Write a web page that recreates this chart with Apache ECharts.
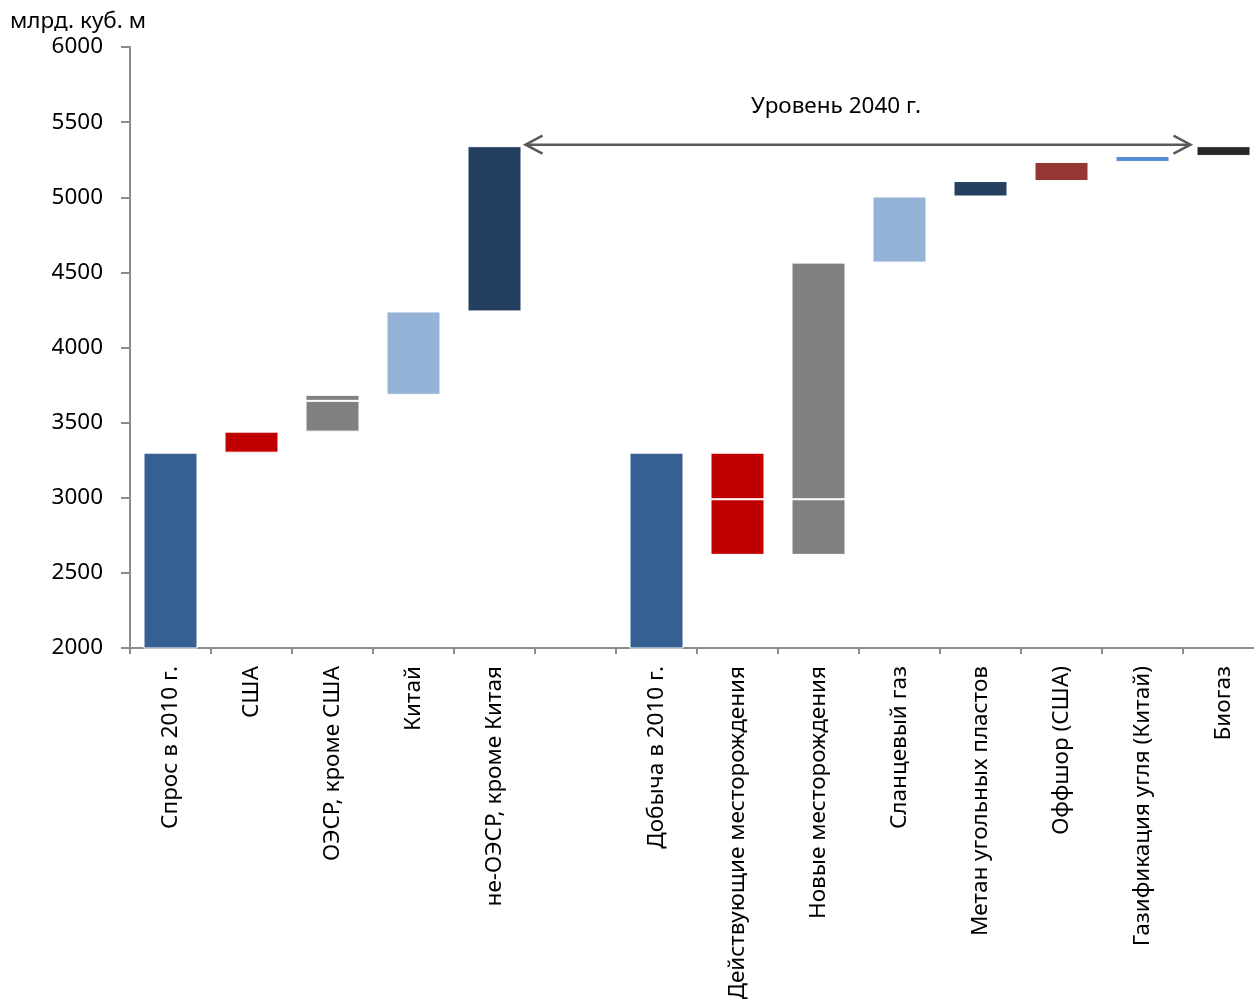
<!DOCTYPE html>
<html><head><meta charset="utf-8">
<script src="https://cdn.jsdelivr.net/npm/echarts@6/dist/echarts.min.js"></script>
<style>html,body{margin:0;padding:0;background:#fff}#c{width:1254px;height:999px}</style>
</head><body><div id="c"></div>
<script>
const categories = ['Спрос в 2010 г.', 'США', 'ОЭСР, кроме США', 'Китай', 'не-ОЭСР, кроме Китая', '',
  'Добыча в 2010 г.', 'Действующие месторождения', 'Новые месторождения', 'Сланцевый газ',
  'Метан угольных пластов', 'Оффшор (США)', 'Газификация угля (Китай)', 'Биогаз'];
// bottom and top of each floating bar (млрд. куб. м)
const barLow  = [0, 3300, 3440, 3685, 4240, null, 0, 2620, 2620, 4565, 5005, 5108, 5235, 5275];
const barHigh = [3300, 3440, 3685, 4240, 5340, null, 3300, 3300, 4565, 5005, 5108, 5235, 5275, 5340];
// internal divider inside some bars
const barSplit = [null, null, 3645, null, null, null, null, 2990, 2990, null, null, null, null, null];
const level2040 = 5350;
const yTicks = [2000, 2500, 3000, 3500, 4000, 4500, 5000, 5500, 6000];

const barColors = ['#366092', '#C00000', '#808080', '#95B3D7', '#243F60', '#ffffff',
  '#366092', '#C00000', '#808080', '#95B3D7', '#243F60', '#953735', '#558ED5', '#262626'];

const FONT = 'Noto Sans';
const base = barLow.map(v => v == null ? '-' : v);
const part1 = barLow.map((v, i) => v == null ? '-' : ((barSplit[i] != null ? barSplit[i] : barHigh[i]) - v));
const part2 = barLow.map((v, i) => (v == null || barSplit[i] == null) ? '-' : barHigh[i] - barSplit[i]);

const chart = echarts.init(document.getElementById('c'), null, {renderer: 'canvas'});
const BW = 54;
const titleText = {type: 'text', left: 10, top: 10, style: {text: 'млрд. куб. м', font: '22.5px "Noto Sans"', fill: '#000'}};
const option = {
  animation: false,
  grid: {left: 130, top: 47, width: 81 * categories.length, height: 601, containLabel: false, outerBoundsMode: 'none'},
  xAxis: {
    type: 'category', data: categories,
    axisLine: {lineStyle: {color: '#8c8c8c', width: 2}},
    axisTick: {show: true, length: 6, lineStyle: {color: '#8c8c8c', width: 2}},
    axisLabel: {rotate: 90, interval: 0, margin: 18, fontFamily: FONT, fontSize: 22.5, color: '#000'}
  },
  yAxis: {
    type: 'value', min: yTicks[0], max: yTicks[yTicks.length - 1], interval: 500,
    axisLine: {show: true, lineStyle: {color: '#8c8c8c', width: 2}},
    axisTick: {show: true, length: 9, lineStyle: {color: '#8c8c8c', width: 2}},
    splitLine: {show: false},
    axisLabel: {margin: 27, fontFamily: FONT, fontSize: 22.5, color: '#000', formatter: v => String(v)}
  },
  series: [
    {type: 'bar', stack: 's', barWidth: BW, data: base, itemStyle: {color: 'transparent'}, silent: true},
    {type: 'bar', stack: 's', barWidth: BW, data: part1,
      itemStyle: {color: p => barColors[p.dataIndex], borderColor: '#fff', borderWidth: 1}},
    {type: 'bar', stack: 's', barWidth: BW, data: part2,
      itemStyle: {color: p => barColors[p.dataIndex], borderColor: '#fff', borderWidth: 1}}
  ],
  graphic: [titleText]
};
chart.setOption(option);

// arrow annotation through the chart's scales
const leftC = chart.convertToPixel({xAxisIndex: 0}, categories[4]);
const rightC = chart.convertToPixel({xAxisIndex: 0}, categories[13]);
const yPix = chart.convertToPixel({yAxisIndex: 0}, level2040);
const x1 = leftC + BW / 2 + 4, x2 = rightC - BW / 2 - 6;
const aStyle = {stroke: '#5a5a5a', lineWidth: 2.5, fill: null};
chart.setOption({
  graphic: [
    titleText,
    {type: 'line', shape: {x1: x1, y1: yPix, x2: x2, y2: yPix}, style: aStyle},
    {type: 'polyline', shape: {points: [[x1 + 17, yPix - 9], [x1, yPix], [x1 + 17, yPix + 9]]}, style: aStyle},
    {type: 'polyline', shape: {points: [[x2 - 17, yPix - 9], [x2, yPix], [x2 - 17, yPix + 9]]}, style: aStyle},
    {type: 'text', x: (x1 + x2) / 2 - 22, y: yPix - 38,
      style: {text: 'Уровень 2040 г.', font: '22.5px "Noto Sans"', fill: '#000', align: 'center', verticalAlign: 'middle'}}
  ]
}, {replaceMerge: ['graphic']});
</script>
</body></html>
